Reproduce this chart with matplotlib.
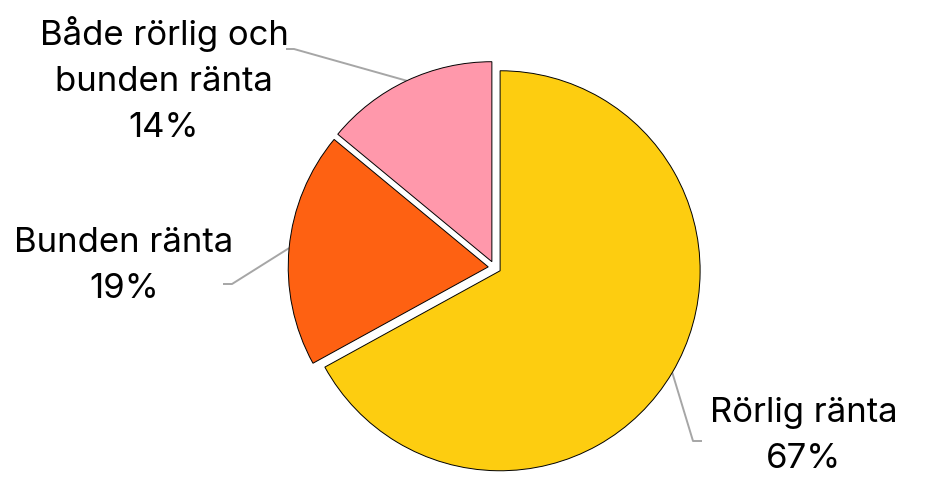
import numpy as np
import matplotlib
matplotlib.use("Agg")
import matplotlib.pyplot as plt

# data
labels = ["Rörlig ränta", "Bunden ränta", "Både rörlig och\nbunden ränta"]
shares = [67, 19, 14]
colors = ["#fdcd10", "#fe6112", "#ff98ab"]

plt.rcParams['font.family'] = ['Inter', 'DejaVu Sans']

W, H = 926, 502
fig = plt.figure(figsize=(W / 100, H / 100), dpi=100)
ax = fig.add_axes([0, 0, 1, 1])

# pie centre in pixels and radius
cx, cy, R = 494.6, 268.5, 200.0
def px(x, y):
    return ((x - cx) / R, (cy - y) / R)

expl = 0.032
wedges, _ = ax.pie(shares, colors=colors, startangle=90, counterclock=False,
                   explode=[expl] * len(shares),
                   wedgeprops=dict(edgecolor="black", linewidth=0.7))

# label positions (text centre, pixels) and leader elbow/end points
text_pos = [(804, 436), (124, 266), (164, 80)]
elbows = [((693, 442), (702, 442)), ((232, 285), (223, 285)), ((294, 50), (286, 50))]

for w, lab, s, tp, (e1, e2) in zip(wedges, labels, shares, text_pos, elbows):
    ang = np.deg2rad((w.theta1 + w.theta2) / 2)
    r0 = 1 + expl
    x0, y0 = r0 * np.cos(ang), r0 * np.sin(ang)
    ex1, ey1 = px(*e1)
    ex2, ey2 = px(*e2)
    ax.plot([x0, ex1, ex2], [y0, ey1, ey2], color="#a6a6a6", lw=1.4,
            solid_capstyle="butt", zorder=0)
    tx, ty = px(*tp)
    ax.text(tx, ty, f"{lab}\n{s}%", ha="center", va="center", fontsize=25,
            linespacing=1.55, color="black")

ax.set_xlim(-cx / R, (W - cx) / R)
ax.set_ylim(-(H - cy) / R, cy / R)
ax.set_aspect("auto")
ax.axis("off")

fig.savefig("out.png", dpi=100)
